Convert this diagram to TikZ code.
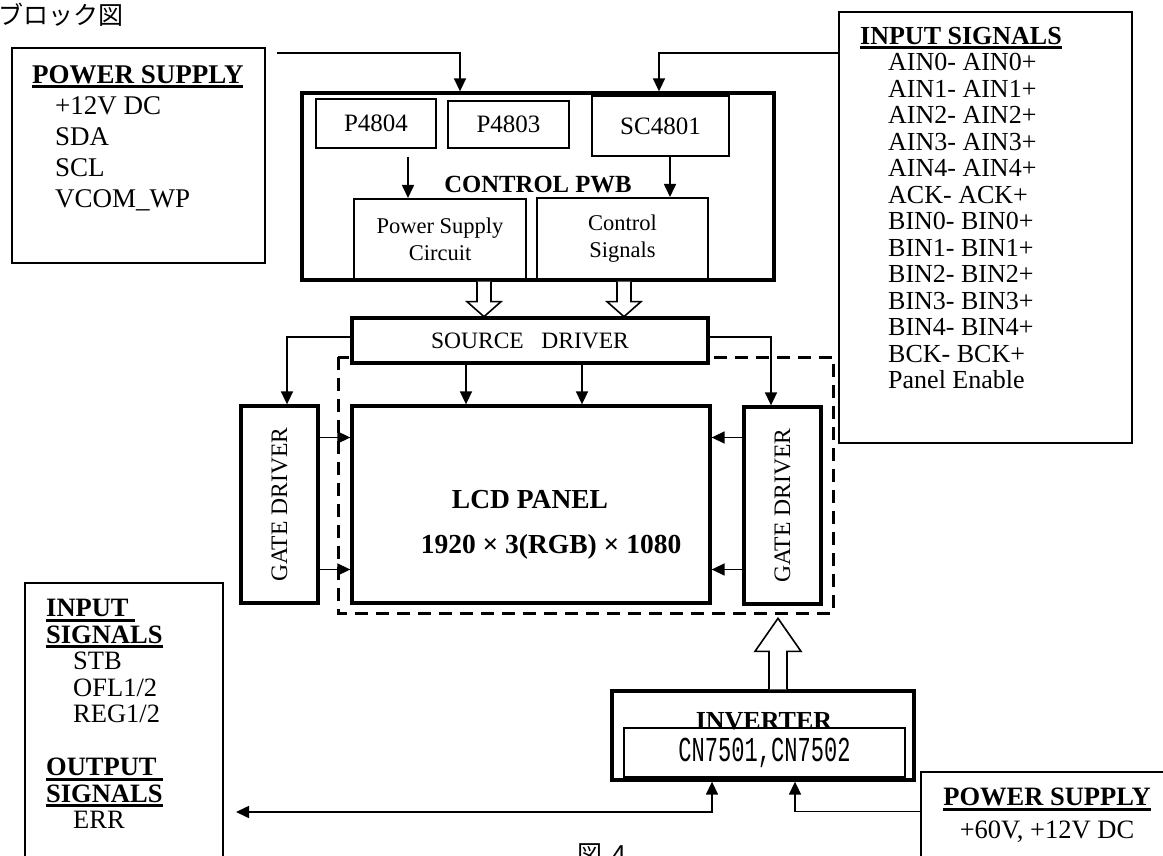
\documentclass[tikz,border=0pt]{standalone}
\usepackage{fontspec}
\setmainfont{Liberation Serif}
\newfontfamily\cjk{Noto Sans CJK JP}
\newfontfamily\cnfont{Liberation Mono}
\usetikzlibrary{arrows.meta,calc}
\newsavebox{\hdrbox}
\newcommand{\hdr}[1]{\sbox{\hdrbox}{\textbf{#1}}\rlap{\rule[-5pt]{\wd\hdrbox}{3pt}}\usebox{\hdrbox}}
\newcommand{\fs}[2]{\fontsize{#1}{#2}\selectfont}

\begin{document}
\begin{tikzpicture}[x=1pt,y=-1pt,
  >={Triangle[length=13pt,width=12pt]},
  every node/.style={inner sep=0pt},
  sz/.style 2 args={minimum width=#1pt,minimum height=#2pt},
  thinbox/.style={draw,line width=1.4pt},
  midbox/.style={draw,line width=2pt},
  thickbox/.style={draw,line width=3.3pt,fill=white},
  link/.style={line width=1.6pt},
  list/.style={align=left,anchor=north west},
  fatdown/.pic={\draw[line width=1.6pt,fill=white] (-7,0) -- (-7,20) -- (-17,20) -- (0,35) -- (17,20) -- (7,20) -- (7,0);},
  fatup/.pic={\draw[line width=1.6pt,fill=white] (-9,0) -- (-9,-38) -- (-23,-38) -- (0,-71) -- (23,-38) -- (9,-38) -- (9,0);}]
  \useasboundingbox (0,0) rectangle (1163,856);

  \node[anchor=west,font=\cjk\fs{25}{25}] (title) at (-2,15) {ブロック図};

  % power supply and input signal boxes
  \node[thinbox,sz={253}{215}] (psbox) at (138.5,155.5) {};
  \node[list,font=\fs{27}{31}] (pstxt) at (32,65) {\hdr{POWER SUPPLY}\\\hspace*{23pt}+12V DC\\\hspace*{23pt}SDA\\\hspace*{23pt}SCL\\\hspace*{23pt}VCOM\_WP};
  \node[thinbox,sz={293}{431}] (insbox) at (985.5,227.5) {};
  \node[list,font=\fs{26}{26.5}] (instxt) at (860,27) {\hdr{INPUT SIGNALS}\\
    \hspace*{28pt}AIN0- AIN0+\\\hspace*{28pt}AIN1- AIN1+\\\hspace*{28pt}AIN2- AIN2+\\
    \hspace*{28pt}AIN3- AIN3+\\\hspace*{28pt}AIN4- AIN4+\\\hspace*{28pt}ACK- ACK+\\
    \hspace*{28pt}BIN0- BIN0+\\\hspace*{28pt}BIN1- BIN1+\\\hspace*{28pt}BIN2- BIN2+\\
    \hspace*{28pt}BIN3- BIN3+\\\hspace*{28pt}BIN4- BIN4+\\\hspace*{28pt}BCK- BCK+\\
    \hspace*{28pt}Panel Enable};

  % control pwb
  \node[thickbox,sz={472}{187}] (pwb) at (538,186.5) {};
  \node[midbox,sz={120}{49},font=\fs{25}{25}] (p4804) at (376,123.5) {P4804};
  \node[midbox,sz={121}{47},font=\fs{25}{25}] (p4803) at (508.5,124.5) {P4803};
  \node[midbox,sz={137}{60},font=\fs{25}{25}] (sc4801) at (660.5,126) {SC4801};
  \node[midbox,sz={172}{81},align=center,font=\fs{22.5}{27}] (pscirc) at (440,239.5) {Power Supply\\Circuit};
  \node[midbox,sz={171}{82},align=center,font=\fs{22.5}{27}] (ctrlsig) at (622.5,239) {Control\\Signals};
  \node[font=\bfseries\fs{24.7}{25}] (pwblbl) at (538,185) {CONTROL PWB};

  \coordinate (pstap) at (277,53);
  \coordinate (pwbtap) at (460,53);
  \coordinate (sigtap) at (659,53);
  \draw[link,->] (pstap) -- (pwbtap) -- (pwbtap |- pwb.north);
  \draw[link,->] (sigtap -| insbox.west) -- (sigtap) -- (sigtap |- pwb.north);
  \draw[link,->] ([xshift=32pt,yshift=-8pt]p4804.south) -- ([xshift=-32pt]pscirc.north);
  \draw[link,->] ([xshift=9.5pt]sc4801.south) -- ([xshift=47.5pt]ctrlsig.north);

  % panel
  \draw[line width=3pt,dash pattern=on 13pt off 8pt] (338,357) rectangle (833,613);
  \node[thickbox,sz={356}{45},font=\fs{23.5}{24}] (srcdrv) at (530,340.5) {SOURCE\ \ \ DRIVER};
  \pic at ([xshift=-54pt]pwb.south) {fatdown};
  \pic at ([xshift=86pt]pwb.south) {fatdown};
  \node[thickbox,sz={77}{197}] (gateL) at (279.5,504.5) {};
  \node[thickbox,sz={358}{197}] (lcd) at (531,504.5) {};
  \node[thickbox,sz={77}{197}] (gateR) at (782.5,505.5) {};
  \node[rotate=90,font=\fs{23.6}{24}] at (gateL) {GATE DRIVER};
  \node[rotate=90,font=\fs{23.6}{24}] at (gateR) {GATE DRIVER};
  \node[font=\bfseries\fs{27.5}{28}] (lcdlbl) at (530,500) {LCD PANEL};
  \node[font=\bfseries\fs{27.5}{28}] (lcdres) at (551,547) {1920 × 3(RGB) × 1080};

  \draw[link,->] ([yshift=3.5pt]srcdrv.west) -| ([xshift=7.5pt]gateL.north);
  \draw[link,->] ([yshift=3.5pt]srcdrv.east) -| ([xshift=-11.5pt]gateR.north);
  \draw[link,->] ([xshift=-64pt]srcdrv.south) -- ([xshift=-65pt]lcd.north);
  \draw[link,->] ([xshift=52pt]srcdrv.south) -- ([xshift=51pt]lcd.north);
  \draw[link,->] ([yshift=67pt]gateL.east) -- ([yshift=67pt]lcd.west);
  \draw[link,->] ([yshift=-65pt]gateL.east) -- ([yshift=-65pt]lcd.west);
  \draw[link,->] ([yshift=68pt]gateR.west) -- ([yshift=67pt]lcd.east);
  \draw[link,->] ([yshift=-64pt]gateR.west) -- ([yshift=-65pt]lcd.east);

  % bottom part
  \node[thinbox,sz={198}{287}] (iobox) at (124,726.5) {};
  \node[list,font=\fs{26.5}{26.5}] (iotxt) at (46,599) {\hdr{INPUT\ }\\\hdr{SIGNALS}\\
    \hspace*{27pt}STB\\\hspace*{27pt}OFL1/2\\\hspace*{27pt}REG1/2\\[26.5pt]
    \hdr{OUTPUT\ }\\\hdr{SIGNALS}\\\hspace*{27pt}ERR};
  \node[thickbox,sz={302}{89}] (inverter) at (763,735.5) {};
  \node[font=\bfseries\fs{26}{26}] (invlbl) at (764,721) {INVERTER};
  \node[draw,line width=1.6pt,sz={281}{49}] (cnbox) at (764.5,752.5)
    {\scalebox{0.63}[1]{\cnfont\fs{35}{35}CN7501,CN7502}};
  \pic at ([xshift=15pt]inverter.north) {fatup};
  \node[thinbox,sz={265}{108}] (ps2) at (1053.5,826) {};
  \node[align=center,anchor=north,font=\fs{26.5}{33}] (ps2txt) at (1047,788) {\hdr{POWER SUPPLY}\\+60V, +12V DC};

  \coordinate (errtip) at (236,812);
  \draw[link,<->] (errtip) -| ([xshift=-51pt]inverter.south);
  \draw[link,->] ([yshift=-40pt]ps2.north west) -| ([xshift=32pt]inverter.south);

  \node[anchor=north west,font=\cjk\fs{25}{25}] (figno) at (577,843) {図\hspace{10pt}4};
\end{tikzpicture}
\end{document}
